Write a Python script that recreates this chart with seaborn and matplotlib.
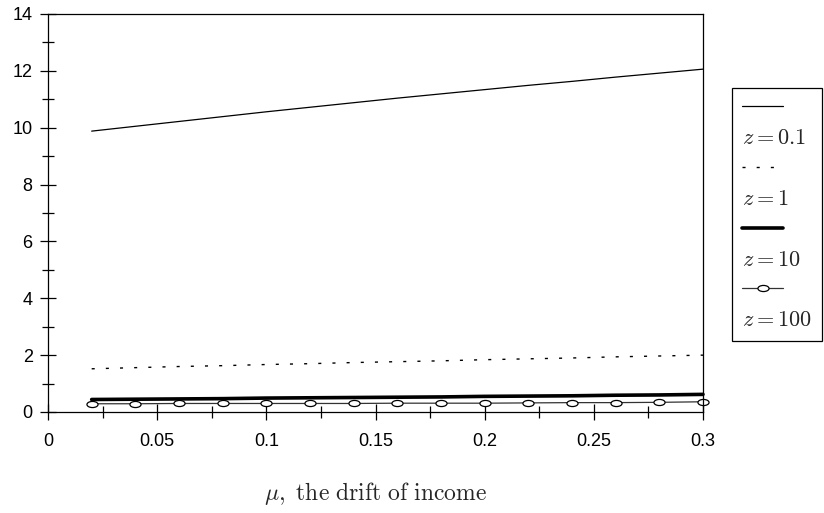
"""Line chart: value vs drift of income for several z."""

import matplotlib

matplotlib.use("Agg")
import matplotlib.pyplot as plt
import numpy as np
import pandas as pd
import seaborn as sns
from matplotlib.lines import Line2D
from matplotlib.path import Path
from matplotlib.ticker import MultipleLocator, FormatStrFormatter

sns.set_style("ticks")
plt.rcParams["font.family"] = ["Liberation Sans", "DejaVu Sans"]
plt.rcParams["mathtext.fontset"] = "cm"

MU = [0.02, 0.04, 0.06, 0.08, 0.10, 0.12, 0.14, 0.16, 0.18, 0.20, 0.22, 0.24, 0.26, 0.28, 0.30]
Z_01 = [9.88, 10.05, 10.22, 10.39, 10.56, 10.72, 10.88, 11.04, 11.19, 11.34, 11.49, 11.63, 11.78, 11.92, 12.06]
Z_1 = [1.52, 1.56, 1.60, 1.63, 1.67, 1.70, 1.74, 1.77, 1.80, 1.84, 1.87, 1.90, 1.94, 1.97, 2.00]
Z_10 = [0.44, 0.45, 0.46, 0.47, 0.49, 0.50, 0.51, 0.52, 0.53, 0.55, 0.56, 0.57, 0.59, 0.60, 0.62]
Z_100 = [0.29, 0.29, 0.30, 0.30, 0.30, 0.30, 0.30, 0.31, 0.31, 0.31, 0.32, 0.33, 0.33, 0.34, 0.36]
LABELS = [r"$z=0.1$", r"$z=1$", r"$z=10$", r"$z=100$"]

df = pd.DataFrame({"mu": MU, "z01": Z_01, "z1": Z_1, "z10": Z_10, "z100": Z_100})

# flat ellipse marker
circ = Path.unit_circle()
ellipse = Path(circ.vertices * np.array([1.0, 0.55]), circ.codes)

fig = plt.figure(figsize=(8.24, 5.13), dpi=100)
ax = fig.add_axes([48 / 824, 1 - 412 / 513, 655 / 824, 398 / 513])

styles = [
    dict(y="z01", color="black", linewidth=0.9),
    dict(y="z1", color="black", linewidth=1.0, dashes=(2.2, 8)),
    dict(y="z10", color="black", linewidth=2.6),
    dict(y="z100", color="#333333", linewidth=0.9, marker=ellipse, markersize=8,
         markerfacecolor="white", markeredgecolor="black", markeredgewidth=0.9),
]
handles = []
for st in styles:
    ycol = st.pop("y")
    dashes = st.pop("dashes", None)
    sns.lineplot(data=df, x="mu", y=ycol, ax=ax, **st)
    line = ax.lines[-1]
    if dashes is not None:
        line.set_dashes(dashes)
    line.set_clip_on(False)
    handles.append(line)

ax.set_xlim(0, 0.3)
ax.set_ylim(0, 14)
ax.xaxis.set_major_locator(MultipleLocator(0.05))
ax.xaxis.set_minor_locator(MultipleLocator(0.025))
ax.yaxis.set_major_locator(MultipleLocator(2))
ax.yaxis.set_minor_locator(MultipleLocator(1))
ax.xaxis.set_major_formatter(FormatStrFormatter("%g"))
ax.tick_params(axis="both", which="major", direction="inout", length=12, width=0.9,
               color="black", labelsize=13, labelcolor="black")
ax.tick_params(axis="both", which="minor", direction="inout", length=9, width=0.9, color="black")
ax.tick_params(axis="x", which="major", pad=9)
ax.tick_params(axis="y", which="major", pad=5)
for sp in ax.spines.values():
    sp.set_visible(True)
    sp.set_color("black")
    sp.set_linewidth(0.9)

ax.set_ylabel("")
ax.set_xlabel(r"$\mu\mathrm{,\ the\ drift\ of\ income}$", fontsize=17, labelpad=22)

# legend: handle on one row, label on the next
blank = Line2D([], [], color="none")
leg_handles, leg_labels = [], []
for h, lab in zip(handles, LABELS):
    leg_handles += [h, blank]
    leg_labels += ["", lab]
leg = fig.legend(leg_handles, leg_labels, loc="upper left",
                 bbox_to_anchor=(732 / 824, 1 - 88 / 513), borderaxespad=0,
                 fontsize=16, handlelength=1.85, handletextpad=-1.85,
                 labelspacing=0.42, borderpad=0.45, fancybox=False,
                 frameon=True, edgecolor="black", framealpha=1)
leg.get_frame().set_linewidth(0.9)

fig.savefig("out.png", dpi=100)
